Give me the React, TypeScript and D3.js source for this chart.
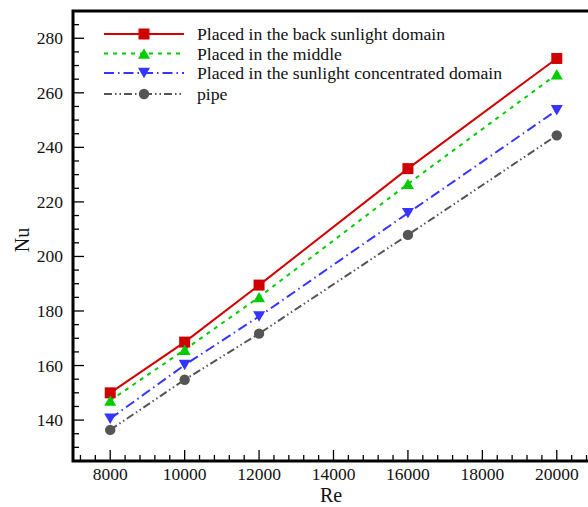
import React from 'react';
import * as d3 from 'd3';

const reValues = [8000, 10000, 12000, 16000, 20000];
const backSunlight = [150.0, 168.6, 189.5, 232.2, 272.6];
const middle = [147.2, 165.8, 185.1, 226.6, 266.8];
const sunlightConcentrated = [140.5, 160.2, 178.0, 215.9, 253.6];
const pipe = [136.4, 154.8, 171.7, 207.9, 244.4];
const seriesNames = [
  'Placed in the back sunlight domain',
  'Placed in the middle',
  'Placed in the sunlight concentrated domain',
  'pipe',
];
const xTicks = [8000, 10000, 12000, 14000, 16000, 18000, 20000];
const yTicks = [140, 160, 180, 200, 220, 240, 260, 280];

const W = 588;
const H = 507;
const left = 73;
const top = 11;
const bottom = 461;
const right = 594;

const FONT = '"Liberation Serif", "Times New Roman", serif';

type Marker = 'square' | 'up' | 'down' | 'circle';
const styles: { color: string; dash: string; marker: Marker; width: number }[] = [
  { color: '#d00000', dash: '', marker: 'square', width: 2 },
  { color: '#00cc00', dash: '4,5', marker: 'up', width: 2 },
  { color: '#3535ff', dash: '10,4,1.5,4', marker: 'down', width: 2 },
  { color: '#555555', dash: '8,3,1.5,3,1.5,3', marker: 'circle', width: 2 },
];

function markerEl(kind: Marker, cx: number, cy: number, color: string, key?: string) {
  if (kind === 'square') {
    return <rect key={key} x={cx - 5.5} y={cy - 5.5} width={11} height={11} fill={color} />;
  }
  if (kind === 'circle') {
    return <circle key={key} cx={cx} cy={cy} r={5.2} fill={color} />;
  }
  const hw = 6;
  const hh = 5.2;
  const pts =
    kind === 'up'
      ? `${cx},${cy - hh} ${cx + hw},${cy + hh} ${cx - hw},${cy + hh}`
      : `${cx},${cy + hh} ${cx + hw},${cy - hh} ${cx - hw},${cy - hh}`;
  return <polygon key={key} points={pts} fill={color} />;
}

export default function App() {
  const x = d3.scaleLinear().domain([7000, 21000]).range([left, right]);
  const y = d3.scaleLinear().domain([125, 290]).range([bottom, top]);
  const data = [backSunlight, middle, sunlightConcentrated, pipe];
  const line = d3
    .line<number>()
    .x((_, i) => x(reValues[i]))
    .y((d) => y(d));

  const xMinor = d3.range(7200, 21000, 400).filter((v) => !xTicks.includes(v));
  const yMinor = d3.range(130, 290, 5).filter((v) => !yTicks.includes(v));

  const legendY = [34, 53.5, 73, 94];

  return (
    <div style={{ position: 'fixed', left: 0, top: 0, width: W, height: H, background: '#fff' }}>
      <svg width={W} height={H} style={{ display: 'block' }}>
        <rect x={0} y={0} width={W} height={H} fill="#fff" />
        {/* series */}
        {data.map((s, si) => (
          <path
            key={'l' + si}
            d={line(s) || ''}
            fill="none"
            stroke={styles[si].color}
            strokeWidth={styles[si].width}
            strokeDasharray={styles[si].dash || undefined}
          />
        ))}
        {data.map((s, si) =>
          s.map((v, i) => markerEl(styles[si].marker, x(reValues[i]), y(v), styles[si].color, `m${si}-${i}`))
        )}
        {/* legend */}
        {seriesNames.map((name, i) => (
          <g key={'lg' + i}>
            <line
              x1={104}
              x2={184}
              y1={legendY[i]}
              y2={legendY[i]}
              stroke={styles[i].color}
              strokeWidth={2}
              strokeDasharray={styles[i].dash || undefined}
            />
            {markerEl(styles[i].marker, 144, legendY[i], styles[i].color)}
            <text x={197} y={legendY[i] + 6} fontFamily={FONT} fontSize={17.7} fill="#111">
              {name}
            </text>
          </g>
        ))}
        {/* ticks */}
        {xTicks.map((t) => (
          <line key={'xt' + t} x1={x(t)} x2={x(t)} y1={bottom} y2={bottom - 11} stroke="#000" strokeWidth={1.3} />
        ))}
        {xMinor.map((t) => (
          <line key={'xm' + t} x1={x(t)} x2={x(t)} y1={bottom} y2={bottom - 6} stroke="#000" strokeWidth={1.3} />
        ))}
        {yTicks.map((t) => (
          <line key={'yt' + t} x1={left} x2={left + 11} y1={y(t)} y2={y(t)} stroke="#000" strokeWidth={1.3} />
        ))}
        {yMinor.map((t) => (
          <line key={'ym' + t} x1={left} x2={left + 6} y1={y(t)} y2={y(t)} stroke="#000" strokeWidth={1.3} />
        ))}
        {/* frame */}
        <rect x={left} y={top} width={right - left} height={bottom - top} fill="none" stroke="#000" strokeWidth={3} />
        {/* tick labels */}
        {xTicks.map((t) => (
          <text key={'xl' + t} x={x(t)} y={480} textAnchor="middle" fontFamily={FONT} fontSize={17.5} fill="#111">
            {t}
          </text>
        ))}
        {yTicks.map((t) => (
          <text key={'yl' + t} x={63} y={y(t) + 6} textAnchor="end" fontFamily={FONT} fontSize={17.5} fill="#111">
            {t}
          </text>
        ))}
        {/* axis titles */}
        <text x={331} y={502} textAnchor="middle" fontFamily={FONT} fontSize={20} fill="#111">
          Re
        </text>
        <text
          transform={`translate(29, 240) rotate(-90)`}
          textAnchor="middle"
          fontFamily={FONT}
          fontSize={20}
          fill="#111"
        >
          Nu
        </text>
      </svg>
    </div>
  );
}
